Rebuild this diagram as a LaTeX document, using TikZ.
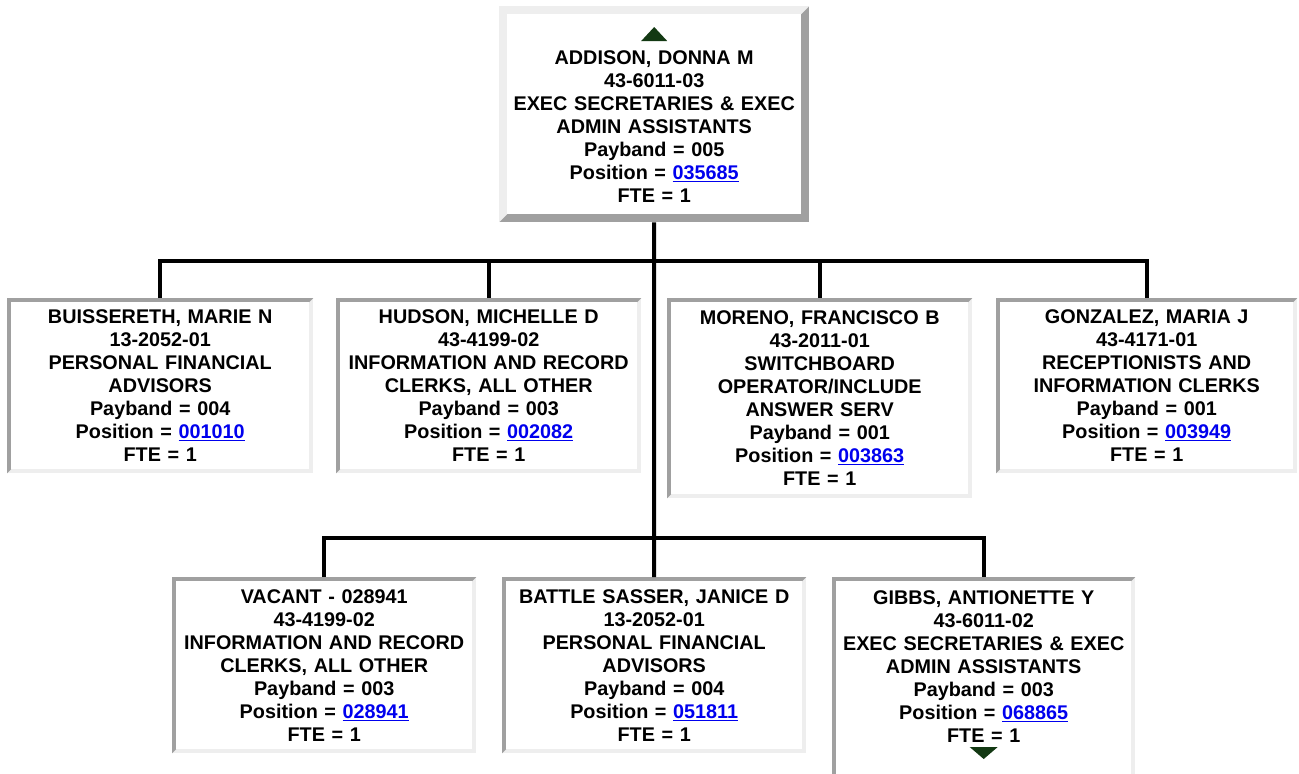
\documentclass[tikz,border=0pt]{standalone}
\usepackage{fontspec}
\setmainfont{Liberation Sans}
\usepackage{xcolor}
\usepackage{tikz}
\usetikzlibrary{backgrounds}
\definecolor{cEscuro}{HTML}{A0A0A0}
\definecolor{cClaro}{HTML}{EEEEEE}
\definecolor{cLink}{HTML}{0000EE}
\definecolor{cSeta}{HTML}{133913}
\newcommand{\lnk}[1]{\textcolor{cLink}{\underline{#1}}}
% moldura em relevo: no, cor sup./esq., cor inf./dir., espessura
\newcommand{\bevel}[4]{%
  \fill[#3] (#1.north west) rectangle (#1.south east);
  \fill[#2] (#1.south west) -- (#1.north west) -- (#1.north east)
    -- ([shift={(-#4,-#4)}]#1.north east) -- ([shift={(#4,-#4)}]#1.north west)
    -- ([shift={(#4,#4)}]#1.south west) -- cycle;
  \fill[white] ([shift={(#4,-#4)}]#1.north west) rectangle ([shift={(-#4,#4)}]#1.south east);
}

\begin{document}
\begin{tikzpicture}[
  x=1pt,y=-1pt,
  font=\bfseries\fontsize{19.8}{23}\selectfont,
  box/.style={rectangle,anchor=north west,align=center,inner sep=0pt,
              text width=298pt,minimum height=175pt},
  con/.style={draw=black,line width=4pt,line join=miter},
  tri/.style={fill=cSeta}
]
\path[use as bounding box,clip] (0,0) rectangle (1299,774);

% ---- topo
\node[box,minimum width=310pt,minimum height=216pt] (addison) at (499,6)
  {\mbox{}\\[16pt] ADDISON, DONNA M\\ 43-6011-03\\ EXEC SECRETARIES \& EXEC\\ ADMIN ASSISTANTS\\
   Payband = 005\\ Position = \lnk{035685}\\ FTE = 1};

% ---- linha 1
\node[box,minimum width=306pt] (buissereth) at (7,298)
  {BUISSERETH, MARIE N\\ 13-2052-01\\ PERSONAL FINANCIAL\\ ADVISORS\\
   Payband = 004\\ Position = \lnk{001010}\\ FTE = 1};
\node[box,minimum width=305pt] (hudson) at (336,298)
  {HUDSON, MICHELLE D\\ 43-4199-02\\ INFORMATION AND RECORD\\ CLERKS, ALL OTHER\\
   Payband = 003\\ Position = \lnk{002082}\\ FTE = 1};
\node[box,minimum width=305pt,minimum height=200pt] (moreno) at (667,298)
  {MORENO, FRANCISCO B\\ 43-2011-01\\ SWITCHBOARD\\ OPERATOR/INCLUDE\\ ANSWER SERV\\
   Payband = 001\\ Position = \lnk{003863}\\ FTE = 1};
\node[box,minimum width=301pt] (gonzalez) at (996,298)
  {GONZALEZ, MARIA J\\ 43-4171-01\\ RECEPTIONISTS AND\\ INFORMATION CLERKS\\
   Payband = 001\\ Position = \lnk{003949}\\ FTE = 1};

% ---- linha 2
\node[box,minimum width=304pt,minimum height=176pt] (vacant) at (172,577)
  {VACANT - 028941\\ 43-4199-02\\ INFORMATION AND RECORD\\ CLERKS, ALL OTHER\\
   Payband = 003\\ Position = \lnk{028941}\\ FTE = 1};
\node[box,minimum width=304pt,minimum height=176pt] (battle) at (502,577)
  {BATTLE SASSER, JANICE D\\ 13-2052-01\\ PERSONAL FINANCIAL\\ ADVISORS\\
   Payband = 004\\ Position = \lnk{051811}\\ FTE = 1};
\node[box,minimum width=303pt,minimum height=202pt] (gibbs) at (832,577)
  {GIBBS, ANTIONETTE Y\\ 43-6011-02\\ EXEC SECRETARIES \& EXEC\\ ADMIN ASSISTANTS\\
   Payband = 003\\ Position = \lnk{068865}\\ FTE = 1\\ \mbox{}};

% ---- molduras
\begin{scope}[on background layer]
  \bevel{addison}{cClaro}{cEscuro}{8pt}
  \foreach \n in {buissereth,hudson,moreno,gonzalez,vacant,battle,gibbs}
    {\bevel{\n}{cEscuro}{cClaro}{4pt}}
\end{scope}

% ---- setas de navegacao
\fill[tri] ([xshift=-13pt,yshift=-35pt]addison.north) -- ([xshift=13pt,yshift=-35pt]addison.north)
  -- ([yshift=-21pt]addison.north) -- cycle;
\fill[tri] ([xshift=-14pt,yshift=-170pt]gibbs.north) -- ([xshift=14pt,yshift=-170pt]gibbs.north)
  -- ([yshift=-182pt]gibbs.north) -- cycle;

% ---- ligacoes
\coordinate (bar1) at (654,261);
\coordinate (bar2) at (654,538);
\draw[con] (addison.south) -- (bar2);
\draw[con] (buissereth.north) |- (bar1) -| (gonzalez.north);
\draw[con] (hudson.north) |- (bar1);
\draw[con] (moreno.north) |- (bar1);
\draw[con] (vacant.north) |- (bar2) -| (gibbs.north);
\draw[con] (battle.north) -- (bar2);
\end{tikzpicture}
\end{document}
